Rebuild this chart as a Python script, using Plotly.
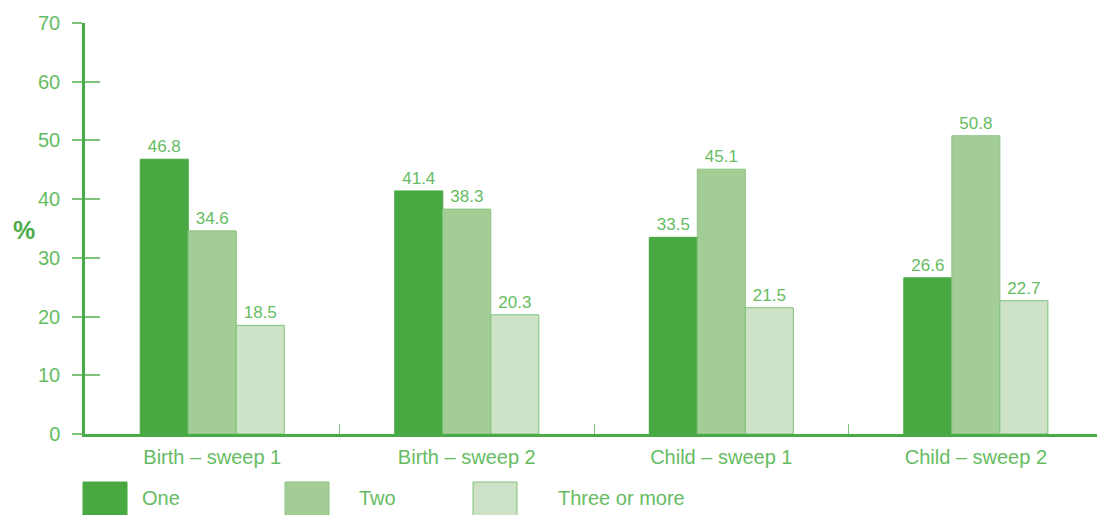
import plotly.graph_objects as go

categories = ["Birth – sweep 1", "Birth – sweep 2", "Child – sweep 1", "Child – sweep 2"]
series_names = ["One", "Two", "Three or more"]
one = [46.8, 41.4, 33.5, 26.6]
two = [34.6, 38.3, 45.1, 50.8]
three = [18.5, 20.3, 21.5, 22.7]
y_ticks = [0, 10, 20, 30, 40, 50, 60, 70]

values = [one, two, three]
colors = ["#48A942", "#A3CD94", "#CEE2C7"]
line_colors = ["#48A942", "#8CC584", "#7FC27A"]
text_color = "#66BC62"
axis_color = "#4BAA48"
font_family = "Liberation Sans, Arial, sans-serif"

W, H = 1097, 515
L, R, T, B = 85, 0, 23, 81
pw, ph = W - L - R, H - T - B


def px_x(x):
    return (x - L) / pw


def px_y(y):
    return (T + ph - y) / ph


fig = go.Figure()
for name, vals, c, lc in zip(series_names, values, colors, line_colors):
    fig.add_trace(go.Bar(
        x=categories, y=vals, name=name,
        marker=dict(color=c, line=dict(color=lc, width=1)),
        text=[f"{v:.1f}" for v in vals], textposition="outside",
        textfont=dict(color=text_color, size=17, family=font_family),
        cliponaxis=False, showlegend=False,
    ))

# invisible trace for inside y ticks
fig.add_trace(go.Scatter(x=[None], y=[None], yaxis="y2", showlegend=False))

fig.update_layout(
    width=W, height=H,
    margin=dict(l=L, r=R, t=T, b=B),
    paper_bgcolor="white", plot_bgcolor="white",
    barmode="group", bargap=0.434, bargroupgap=0,
    font=dict(family=font_family, color=text_color),
    xaxis=dict(
        type="category", range=[-0.5, 3.476],
        showline=True, linecolor=axis_color, linewidth=2.5,
        ticks="inside", tickson="boundaries", ticklen=10, tickcolor="#7FC27A", tickwidth=1,
        tickfont=dict(size=20, color=text_color, family=font_family),
        showgrid=False, zeroline=False, ticklabelstandoff=3,
    ),
    yaxis=dict(
        range=[0, 70], tickvals=y_ticks,
        showline=True, linecolor=axis_color, linewidth=2.5,
        ticks="outside", ticklen=10, tickcolor="#7FC27A", tickwidth=1.5,
        tickfont=dict(size=20, color=text_color, family=font_family),
        showgrid=False, zeroline=False, ticklabelstandoff=8,
    ),
    yaxis2=dict(
        range=[0, 70], tickvals=y_ticks, overlaying="y", side="left",
        showline=False, ticks="inside", ticklen=15, tickcolor="#7FC27A", tickwidth=1.5,
        showticklabels=False, showgrid=False, zeroline=False,
    ),
)

fig.add_annotation(
    x=px_x(24), y=px_y(230), xref="paper", yref="paper",
    xanchor="center", yanchor="middle",
    text="<b>%</b>", showarrow=False, font=dict(size=25, color=axis_color, family=font_family),
)

# custom legend
sq_x = [83, 285, 473]
txt_x = [140, 357, 556]
for name, c, lc, sx, tx in zip(series_names, colors, line_colors, sq_x, txt_x):
    fig.add_shape(
        type="rect", xref="paper", yref="paper",
        x0=px_x(sx), x1=px_x(sx + 44),
        y0=px_y(530), y1=px_y(482),
        fillcolor=c, line=dict(color=lc, width=1),
    )
    fig.add_annotation(
        x=px_x(tx), y=px_y(498), xref="paper", yref="paper",
        xanchor="left", yanchor="middle", text=name, showarrow=False,
        font=dict(size=20, color=text_color, family=font_family),
    )

fig.write_html(
    "out.html",
    config={"displayModeBar": False},
    post_script="document.body.style.margin='0';document.body.style.overflow='hidden';",
)
